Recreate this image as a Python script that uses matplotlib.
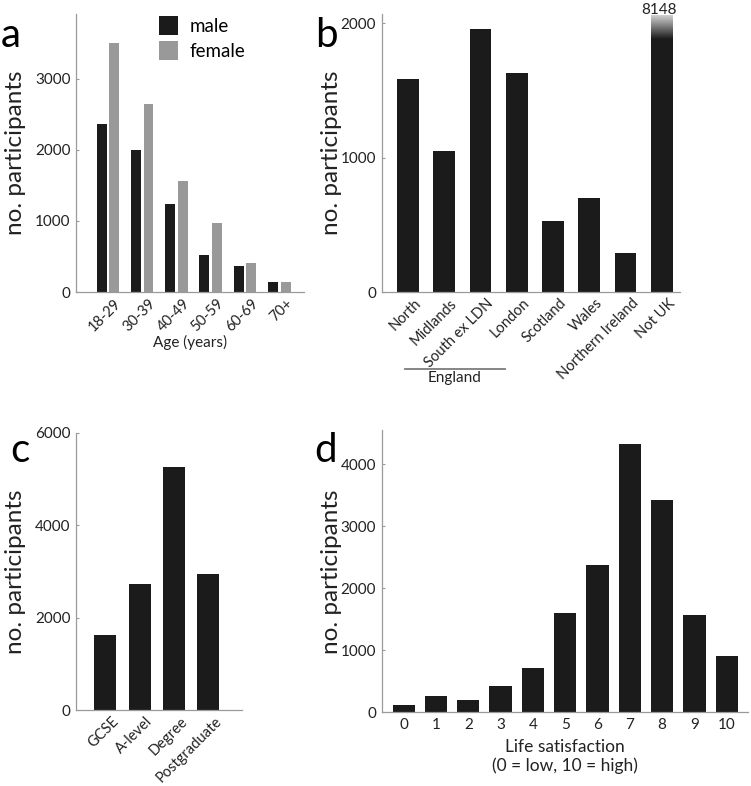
import matplotlib
matplotlib.use('Agg')
import matplotlib.pyplot as plt
from matplotlib.colors import LinearSegmentedColormap
from matplotlib.transforms import ScaledTranslation
import numpy as np

plt.rcParams['font.family'] = ['Lato', 'DejaVu Sans']

# panel a: age by sex
age_groups = ['18-29', '30-39', '40-49', '50-59', '60-69', '70+']
male = [2366, 2000, 1239, 521, 366, 136]
female = [3511, 2643, 1563, 976, 413, 136]

# panel b: region
regions = ['North', 'Midlands', 'South ex LDN', 'London', 'Scotland', 'Wales',
           'Northern Ireland', 'Not UK']
region_n = [1580, 1052, 1958, 1632, 530, 700, 287, 8148]

# panel c: education
edu = ['GCSE', 'A-level', 'Degree', 'Postgraduate']
edu_n = [1623, 2734, 5267, 2950]

# panel d: life satisfaction
ls_score = list(range(11))
ls_n = [108, 258, 188, 415, 711, 1599, 2370, 4335, 3430, 1562, 910]

W, H = 751, 786
BLACK = '#1b1b1b'
GREY = '#999999'
SPINE = '#9a9a9a'
TXT = '#222222'
TICK_FS = 11
ROT_FS = 10.5
YLAB_FS = 17.5
LET_FS = 29

fig = plt.figure(figsize=(W / 100, H / 100), dpi=100)


def box(l, r, t, b):
    return [l / W, 1 - b / H, (r - l) / W, (b - t) / H]


def style(ax):
    for s in ['top', 'right']:
        ax.spines[s].set_visible(False)
    for s in ['left', 'bottom']:
        ax.spines[s].set_color(SPINE)
        ax.spines[s].set_linewidth(0.9)
    ax.tick_params(direction='in', length=2.5, width=0.8, color=SPINE,
                   labelsize=TICK_FS, labelcolor=TXT, pad=4)


def rot_labels(ax, labels):
    ax.set_xticklabels(labels, rotation=45, ha='right', rotation_mode='anchor',
                       fontsize=ROT_FS)
    ax.tick_params(axis='x', length=0, pad=3)
    off = ScaledTranslation(6 / 100, 0, fig.dpi_scale_trans)
    for t in ax.get_xticklabels():
        t.set_transform(t.get_transform() + off)


def ylab(x, y):
    fig.text(x / W, 1 - y / H, 'no. participants', rotation=90, ha='center',
             va='center', fontsize=YLAB_FS, color=TXT)


def letter(x, y, s):
    fig.text(x / W, 1 - y / H, s, ha='center', va='baseline', fontsize=LET_FS,
             color='black')


# ---- a
axa = fig.add_axes(box(76, 304, 14, 292))
style(axa)
xa = np.arange(1, len(age_groups) + 1)
bw = 0.29
axa.bar(xa - 0.185, male, bw, color=BLACK, label='male')
axa.bar(xa + 0.185, female, bw, color=GREY, label='female')
axa.set_xlim(0.07, 6.72)
axa.set_ylim(0, 3915)
axa.set_yticks([0, 1000, 2000, 3000])
axa.set_xticks(xa)
rot_labels(axa, age_groups)
axa.set_xlabel('Age (years)', fontsize=ROT_FS + 0.5, color=TXT, labelpad=1)
axa.legend(loc='upper left', bbox_to_anchor=(0.33, 1.02), frameon=False,
           fontsize=13.5, handlelength=1.05, handleheight=1.15, handletextpad=0.6,
           labelspacing=0.35, borderaxespad=0)
ylab(16, 153)
letter(11, 47, 'a')

# ---- b
axb = fig.add_axes(box(381.7, 680, 14, 292))
style(axb)
xb = np.arange(1, len(regions) + 1)
b_top = 2050
shown = [min(v, b_top) for v in region_n]
axb.bar(xb, shown, 0.6, color=BLACK)
# fade the top of the off-scale bar
fade = LinearSegmentedColormap.from_list('fade', [BLACK, BLACK, '#d0d0d0'])
grad = np.linspace(0, 1, 100).reshape(-1, 1)
axb.imshow(grad, cmap=fade, aspect='auto', origin='lower',
           extent=[xb[-1] - 0.3, xb[-1] + 0.3, 1700, b_top], zorder=3)
axb.set_xlim(0.28, 8.5)
axb.set_ylim(0, 2067)
axb.set_yticks([0, 1000, 2000])
axb.set_xticks(xb)
rot_labels(axb, regions)
fig.text(659 / W, 1 - 9.5 / H, str(region_n[-1]), ha='center', va='center',
         fontsize=TICK_FS, color=TXT)
# England bracket
axb.annotate('', xy=(508.3 / W, 1 - 369 / H), xytext=(401.7 / W, 1 - 369 / H),
             xycoords='figure fraction',
             arrowprops=dict(arrowstyle='-', color='#555555', lw=1.0))
fig.text(455 / W, 1 - 378 / H, 'England', ha='center', va='center',
         fontsize=ROT_FS + 0.5, color=TXT)
ylab(331, 153)
letter(326, 47, 'b')

# ---- c
axc = fig.add_axes(box(76, 242.3, 432.7, 710))
style(axc)
xc = np.arange(1, len(edu) + 1)
axc.bar(xc, edu_n, 0.64, color=BLACK)
axc.set_xlim(0.15, 4.99)
axc.set_ylim(0, 6000)
axc.set_yticks([0, 2000, 4000, 6000])
axc.set_xticks(xc)
rot_labels(axc, edu)
ylab(16, 572)
letter(20, 462, 'c')

# ---- d
axd = fig.add_axes(box(381.7, 748, 430, 712))
style(axd)
axd.bar(ls_score, ls_n, 0.69, color=BLACK)
axd.set_xlim(-0.68, 10.66)
axd.set_ylim(0, 4555)
axd.set_yticks([0, 1000, 2000, 3000, 4000])
axd.set_xticks(ls_score)
axd.tick_params(axis='x', length=0)
axd.set_xlabel('Life satisfaction\n(0 = low, 10 = high)', fontsize=TICK_FS + 1.5,
               color=TXT, labelpad=5, linespacing=1.25)
ylab(331, 572)
letter(326, 462, 'd')

fig.savefig('out.png', dpi=100)
